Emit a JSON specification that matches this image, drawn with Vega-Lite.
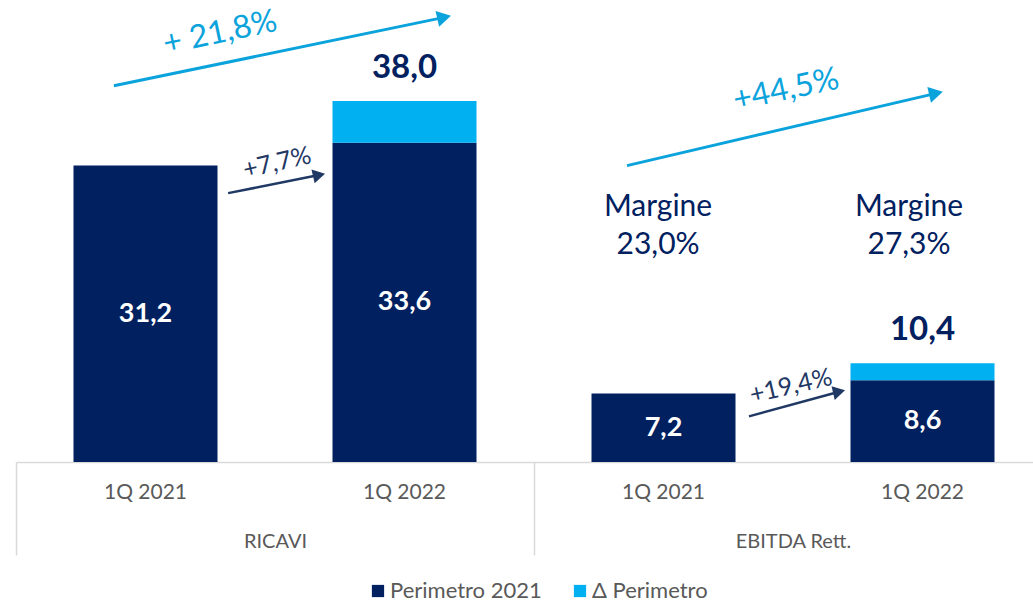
{
  "$schema": "https://vega.github.io/schema/vega-lite/v6.json",
  "padding": {"left": 15, "top": 0, "right": -18, "bottom": 0},
  "width": 1036,
  "height": 462,
  "config": {
    "font": "Lato",
    "view": {"stroke": null}
  },
  "data": {
    "values": [
      {"kind": "bar", "group": "RICAVI", "slot": "RICAVI 1Q 2021", "series": "Perimetro 2021", "value": 31.2, "label": "31,2"},
      {"kind": "bar", "group": "RICAVI", "slot": "RICAVI 1Q 2022", "series": "Perimetro 2021", "value": 33.6, "label": "33,6"},
      {"kind": "bar", "group": "RICAVI", "slot": "RICAVI 1Q 2022", "series": "Δ Perimetro", "value": 4.4, "label": ""},
      {"kind": "bar", "group": "EBITDA Rett.", "slot": "EBITDA 1Q 2021", "series": "Perimetro 2021", "value": 7.2, "label": "7,2"},
      {"kind": "bar", "group": "EBITDA Rett.", "slot": "EBITDA 1Q 2022", "series": "Perimetro 2021", "value": 8.6, "label": "8,6"},
      {"kind": "bar", "group": "EBITDA Rett.", "slot": "EBITDA 1Q 2022", "series": "Δ Perimetro", "value": 1.8, "label": ""},
      {"kind": "total", "group": "RICAVI", "slot": "RICAVI 1Q 2022", "value": 38.0, "label": "38,0"},
      {"kind": "total", "group": "EBITDA Rett.", "slot": "EBITDA 1Q 2022", "value": 10.4, "label": "10,4"},
      {"kind": "bigarrow", "group": "RICAVI", "x0": 0.378, "y0": 39.6, "x1": 1.653, "y1": 46.8},
      {"kind": "bigarrow", "group": "EBITDA Rett.", "x0": 2.359, "y0": 31.2, "x1": 3.552, "y1": 38.8},
      {"kind": "smallarrow", "group": "RICAVI", "x0": 0.819, "y0": 28.3, "x1": 1.17, "y1": 30.2},
      {"kind": "smallarrow", "group": "EBITDA Rett.", "x0": 2.83, "y0": 4.8, "x1": 3.178, "y1": 7.4},
      {"kind": "bigpct", "group": "RICAVI", "x": 0.788, "y": 45.2, "label": "+ 21,8%"},
      {"kind": "bigpct", "group": "EBITDA Rett.", "x": 2.973, "y": 39.2, "label": "+44,5%"},
      {"kind": "smallpct", "group": "RICAVI", "x": 1.008, "y": 31.5, "label": "+7,7%"},
      {"kind": "smallpct", "group": "EBITDA Rett.", "x": 2.992, "y": 8.0, "label": "+19,4%"},
      {"kind": "margin", "group": "EBITDA Rett.", "x": 2.479, "y": 26.8, "label": ["Margine", "23,0%"]},
      {"kind": "margin", "group": "EBITDA Rett.", "x": 3.448, "y": 26.8, "label": ["Margine", "27,3%"]}
    ]
  },
  "resolve": {"scale": {"x": "independent", "y": "independent"}, "axis": {"x": "independent"}},
  "layer": [
    {
      "transform": [{"filter": "datum.kind === 'bar'"}],
      "mark": {"type": "bar"},
      "encoding": {
        "x": {
          "field": "slot", "type": "nominal",
          "scale": {"domain": ["RICAVI 1Q 2021", "RICAVI 1Q 2022", "EBITDA 1Q 2021", "EBITDA 1Q 2022"], "paddingInner": 0.444, "paddingOuter": 0.222},
          "axis": {
            "orient": "bottom",
            "title": null,
            "labelAngle": 0,
            "labelExpr": "slice(datum.label, -7)",
            "labelFontSize": 21,
            "labelColor": "#595959",
            "labelFont": "Lato",
            "labelPadding": 19,
            "ticks": false,
            "domainColor": "#d9d9d9",
            "domainWidth": 1.5
          }
        },
        "y": {
          "field": "value", "type": "quantitative", "stack": "zero",
          "scale": {"domain": [0, 48.63], "nice": false},
          "axis": null
        },
        "order": {"field": "series", "sort": "ascending"},
        "color": {
          "field": "series", "type": "nominal",
          "scale": {"domain": ["Perimetro 2021", "Δ Perimetro"], "range": ["#002060", "#00b0f0"]},
          "legend": {
            "title": null,
            "orient": "none",
            "direction": "horizontal",
            "legendX": 351,
            "legendY": 580,
            "symbolType": "square",
            "symbolSize": 150,
            "symbolStrokeWidth": 0,
            "labelFontSize": 22,
            "labelColor": "#595959",
            "labelFont": "Lato",
            "labelOffset": 1,
            "columnPadding": 27
          }
        }
      }
    },
    {
      "transform": [{"filter": "datum.kind === 'bar' && datum.series === 'Perimetro 2021'"}],
      "mark": {"type": "text", "color": "white", "fontWeight": "bold", "fontSize": 27, "baseline": "middle", "align": "center"},
      "encoding": {
        "x": {"field": "slot", "type": "nominal", "scale": {"domain": ["RICAVI 1Q 2021", "RICAVI 1Q 2022", "EBITDA 1Q 2021", "EBITDA 1Q 2022"], "paddingInner": 0.444, "paddingOuter": 0.222}, "axis": null},
        "y": {"field": "value", "type": "quantitative", "scale": {"domain": [0, 97.26], "nice": false}, "axis": null},
        "text": {"field": "label"}
      }
    },
    {
      "transform": [{"filter": "datum.kind === 'total'"}],
      "mark": {"type": "text", "color": "#002060", "fontWeight": "bold", "fontSize": 33, "baseline": "middle", "align": "center", "dy": -33},
      "encoding": {
        "x": {"field": "slot", "type": "nominal", "scale": {"domain": ["RICAVI 1Q 2021", "RICAVI 1Q 2022", "EBITDA 1Q 2021", "EBITDA 1Q 2022"], "paddingInner": 0.444, "paddingOuter": 0.222}, "axis": null},
        "y": {"field": "value", "type": "quantitative", "scale": {"domain": [0, 48.63], "nice": false}, "axis": null},
        "text": {"field": "label"}
      }
    },
    {
      "transform": [{"filter": "datum.kind === 'bigarrow'"}],
      "mark": {"type": "rule", "color": "#0ba3dc", "strokeWidth": 3},
      "encoding": {
        "x": {
          "field": "x0", "type": "quantitative", "scale": {"domain": [0, 4], "nice": false, "zero": false},
          "axis": {
            "orient": "bottom",
            "title": null,
            "values": [0, 1, 2, 3, 4],
            "labelExpr": "datum.value === 1 ? 'RICAVI' : datum.value === 3 ? 'EBITDA Rett.' : ''",
            "labelFontSize": 20,
            "labelColor": "#595959",
            "labelFont": "Lato",
            "labelFlush": false,
            "labelOverlap": false,
            "labelPadding": -24,
            "domain": false,
            "grid": false,
            "tickSize": 93,
            "tickWidth": 1.5,
            "tickColor": {"condition": {"test": "datum.value % 2 === 0", "value": "#d9d9d9"}, "value": "transparent"}
          }
        },
        "x2": {"field": "x1"},
        "y": {"field": "y0", "type": "quantitative", "scale": {"domain": [0, 48.63], "nice": false}, "axis": null},
        "y2": {"field": "y1"}
      }
    },
    {
      "transform": [{"filter": "datum.kind === 'bigarrow'"}],
      "mark": {"type": "point", "shape": "triangle-right", "filled": true, "color": "#0ba3dc", "size": 260, "angle": 347, "opacity": 1},
      "encoding": {
        "x": {"field": "x1", "type": "quantitative", "scale": {"domain": [0, 4], "nice": false, "zero": false}, "axis": null},
        "y": {"field": "y1", "type": "quantitative", "scale": {"domain": [0, 48.63], "nice": false}, "axis": null}
      }
    },
    {
      "transform": [{"filter": "datum.kind === 'smallarrow'"}],
      "mark": {"type": "rule", "color": "#1f3864", "strokeWidth": 2.5},
      "encoding": {
        "x": {"field": "x0", "type": "quantitative", "scale": {"domain": [0, 4], "nice": false, "zero": false}, "axis": null},
        "x2": {"field": "x1"},
        "y": {"field": "y0", "type": "quantitative", "scale": {"domain": [0, 48.63], "nice": false}, "axis": null},
        "y2": {"field": "y1"}
      }
    },
    {
      "transform": [{"filter": "datum.kind === 'smallarrow'"}],
      "mark": {"type": "point", "shape": "triangle-right", "filled": true, "color": "#1f3864", "size": 200, "angle": 347, "opacity": 1},
      "encoding": {
        "x": {"field": "x1", "type": "quantitative", "scale": {"domain": [0, 4], "nice": false, "zero": false}, "axis": null},
        "y": {"field": "y1", "type": "quantitative", "scale": {"domain": [0, 48.63], "nice": false}, "axis": null}
      }
    },
    {
      "transform": [{"filter": "datum.kind === 'bigpct'"}],
      "mark": {"type": "text", "color": "#0ba3dc", "fontSize": 32, "angle": 348, "baseline": "middle", "align": "center"},
      "encoding": {
        "x": {"field": "x", "type": "quantitative", "scale": {"domain": [0, 4], "nice": false, "zero": false}, "axis": null},
        "y": {"field": "y", "type": "quantitative", "scale": {"domain": [0, 48.63], "nice": false}, "axis": null},
        "text": {"field": "label"}
      }
    },
    {
      "transform": [{"filter": "datum.kind === 'smallpct'"}],
      "mark": {"type": "text", "color": "#1f3864", "fontSize": 25, "angle": 347, "baseline": "middle", "align": "center"},
      "encoding": {
        "x": {"field": "x", "type": "quantitative", "scale": {"domain": [0, 4], "nice": false, "zero": false}, "axis": null},
        "y": {"field": "y", "type": "quantitative", "scale": {"domain": [0, 48.63], "nice": false}, "axis": null},
        "text": {"field": "label"}
      }
    },
    {
      "transform": [{"filter": "datum.kind === 'margin'"}],
      "mark": {"type": "text", "color": "#002060", "fontSize": 30, "lineHeight": 38, "baseline": "middle", "align": "center"},
      "encoding": {
        "x": {"field": "x", "type": "quantitative", "scale": {"domain": [0, 4], "nice": false, "zero": false}, "axis": null},
        "y": {"field": "y", "type": "quantitative", "scale": {"domain": [0, 48.63], "nice": false}, "axis": null},
        "text": {"field": "label"}
      }
    }
  ]
}
